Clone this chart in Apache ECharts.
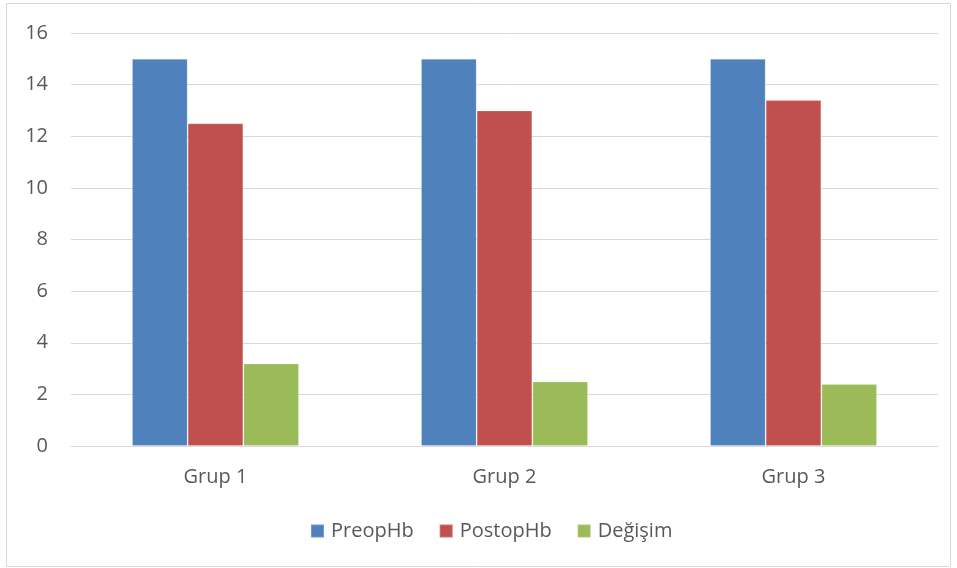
<!DOCTYPE html>
<html><head><meta charset="utf-8">
<script src="https://cdn.jsdelivr.net/npm/echarts@6/dist/echarts.min.js"></script>
<style>html,body{margin:0;padding:0;background:#fff}#c{width:957px;height:568px}</style>
</head><body><div id="c"></div>
<script>
const categories = ["Grup 1", "Grup 2", "Grup 3"];
const preopHb = [15, 15, 15];
const postopHb = [12.5, 13, 13.4];
const degisim = [3.2, 2.5, 2.4];
const seriesNames = ["PreopHb", "PostopHb", "Değişim"];
const colors = ["#4F81BD", "#C0504D", "#9BBB59"];
const yTicks = { min: 0, max: 16, interval: 2 };

const font = "'Open Sans', sans-serif";
const chart = echarts.init(document.getElementById('c'), null, { renderer: 'canvas' });
const mk = (name, data, i) => ({
  name, type: 'bar', data, barGap: '0%', barCategoryGap: '42.2%',
  itemStyle: { color: colors[i], borderColor: 'rgba(255,255,255,0.2)', borderWidth: 1 }
});
chart.setOption({
  animation: false,
  textStyle: { fontFamily: font },
  graphic: [{ type: 'rect', shape: { x: 6.5, y: 3.5, width: 944, height: 563 }, style: { fill: 'none', stroke: '#D9D9D9', lineWidth: 1 }, z: -1 }],
  grid: { left: 71, right: 19, top: 33, bottom: 122 },
  xAxis: {
    type: 'category', data: categories,
    axisLine: { show: true, lineStyle: { color: '#D9D9D9', width: 1 } },
    axisTick: { show: false },
    axisLabel: { color: '#595959', fontSize: 20, fontFamily: font, margin: 21 }
  },
  yAxis: {
    type: 'value', min: yTicks.min, max: yTicks.max, interval: yTicks.interval,
    axisLine: { show: false }, axisTick: { show: false },
    splitLine: { lineStyle: { color: '#D9D9D9', width: 1 } },
    axisLabel: { color: '#595959', fontSize: 20, fontFamily: font, margin: 23 }
  },
  legend: {
    bottom: 27, left: 310, padding: 0, itemWidth: 13, itemHeight: 13, itemGap: 25,
    icon: 'rect',
    textStyle: { color: '#595959', fontSize: 20, fontFamily: font, padding: [0, 0, 0, 2] },
    data: seriesNames
  },
  series: [mk(seriesNames[0], preopHb, 0), mk(seriesNames[1], postopHb, 1), mk(seriesNames[2], degisim, 2)]
});
</script></body></html>
